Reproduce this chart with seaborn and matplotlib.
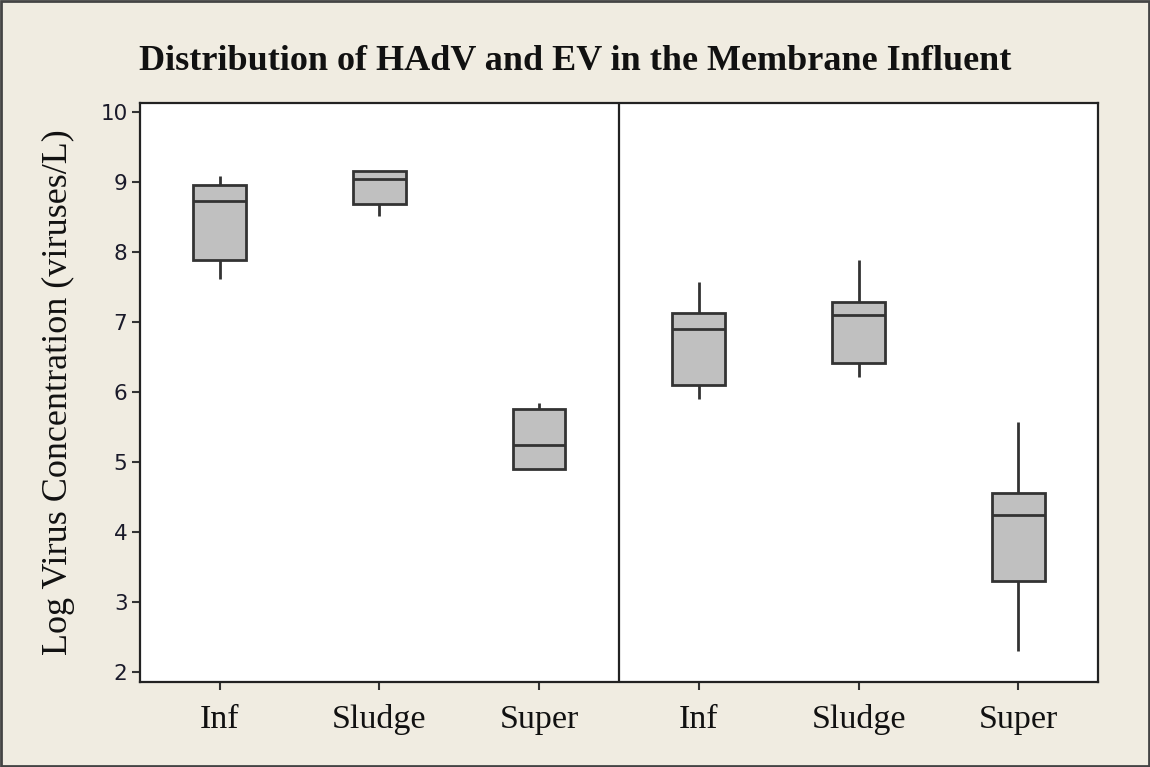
import numpy as np
import pandas as pd
import matplotlib
matplotlib.use("Agg")
import matplotlib.pyplot as plt
import seaborn as sns
from matplotlib.patches import Rectangle

# ---- data ----
groups = ["HAdV Inf", "HAdV Sludge", "HAdV Super", "EV Inf", "EV Sludge", "EV Super"]
tick_labels = ["Inf", "Sludge", "Super", "Inf", "Sludge", "Super"]
whisker_low = [7.61, 8.52, 4.90, 5.90, 6.21, 2.30]
q1 =          [7.89, 8.68, 4.90, 6.10, 6.41, 3.30]
median =      [8.73, 9.05, 5.25, 6.90, 7.10, 4.25]
q3 =          [8.96, 9.16, 5.76, 7.13, 7.28, 4.56]
whisker_high = [9.09, 9.16, 5.85, 7.57, 7.89, 5.57]

# five values per group reproduce exactly these five-number summaries
rows = []
for g, a, b, c, d, e in zip(groups, whisker_low, q1, median, q3, whisker_high):
    for v in (a, b, c, d, e):
        rows.append({"group": g, "value": v})
df = pd.DataFrame(rows)

bg = "#F0ECE1"
edge = "#333333"

sns.set_style("ticks")
fig = plt.figure(figsize=(11.5, 7.67), dpi=100, facecolor=bg)
ax = fig.add_axes([0.1217, 0.1108, 0.8331, 0.7549])
ax.set_facecolor("white")

sns.boxplot(data=df, x="group", y="value", order=groups, color="#C0C0C0",
            width=0.33, whis=np.inf, linecolor=edge, linewidth=2,
            showcaps=False, saturation=1, ax=ax)

ax.axvline(2.5, color="#222222", lw=1.6)

ax.set_xlim(-0.5, 5.5)
ax.set_ylim(1.857, 10.13)
ax.set_yticks(range(2, 11))
ax.set_yticklabels([str(v) for v in range(2, 11)], fontsize=15.5, family="DejaVu Sans", color="#1a1a2a")
ax.set_xticks(range(6))
ax.set_xticklabels(tick_labels, fontsize=24.5, family="Liberation Serif", color="#111111")
ax.tick_params(axis="both", direction="out", length=6, width=1.5, color=edge)
ax.tick_params(axis="x", pad=10)
ax.tick_params(axis="y", pad=3)
for s in ax.spines.values():
    s.set_linewidth(1.6)
    s.set_color("#222222")
    s.set_visible(True)

ax.set_xlabel("")
ax.set_ylabel("Log Virus Concentration (viruses/L)", fontsize=26,
              family="Liberation Serif", color="#111111", labelpad=18)

fig.text(0.5, 0.92, "Distribution of HAdV and EV in the Membrane Influent",
         ha="center", va="center", fontsize=26, fontweight="bold",
         family="Liberation Serif", color="#111111")

fig.patches.append(Rectangle((0.001, 0.001), 0.998, 0.998, transform=fig.transFigure,
                             fill=False, edgecolor="#444444", lw=2))

fig.savefig("out.png", dpi=100, facecolor=bg)
